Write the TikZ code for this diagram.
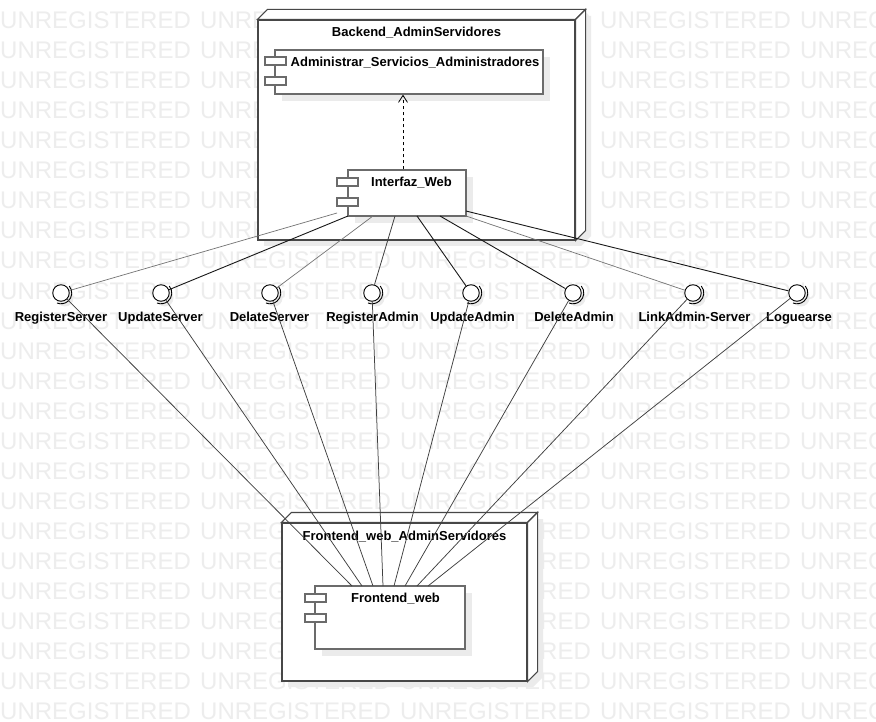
\documentclass[tikz,border=0pt]{standalone}
\usepackage{fontspec}
\setmainfont{Liberation Sans}
\usetikzlibrary{arrows.meta}
\definecolor{wmgray}{HTML}{EDEDED}
\definecolor{shadowgray}{HTML}{EBEBEB}
\begin{document}
\begin{tikzpicture}[x=1pt,y=-1pt,
  wm/.style={anchor=base west,inner sep=0pt,text=wmgray,font=\fontsize{24}{24}\selectfont},
  shadowc/.style={fill=shadowgray},
  nodeedge/.style={draw=black!72,line width=1.15pt,fill=white},
  comp/.style={draw=black!58,line width=1.3pt,fill=white,inner sep=0pt,rectangle},
  icon/.style={draw=black!58,line width=1.2pt,fill=white,inner sep=0pt,minimum width=21pt,minimum height=8pt,rectangle},
  iface/.style={circle,draw=black,line width=0.9pt,fill=white,minimum size=16.5pt,inner sep=0pt},
  sock/.style={draw=black,line width=0.9pt},
  lbl/.style={font=\bfseries\fontsize{13}{15}\selectfont,inner sep=0pt,anchor=base},
  wire/.style={draw=black!90,line width=0.9pt},
  wiremid/.style={draw=black!75,line width=0.8pt},
  wirethin/.style={draw=black!55,line width=0.7pt},
  wirelow/.style={draw=black!75,line width=0.75pt},
  dep/.style={draw=black,line width=0.8pt,dash pattern=on 3pt off 3pt,-{Straight Barb[length=7pt,width=9pt]}}
]
\useasboundingbox (0,0) rectangle (876,722);
\fill[white] (0,0) rectangle (876,722);
% watermark
\begin{scope}
\clip (0,0) rectangle (876,722);
\foreach \k in {0,...,23}{\foreach \j in {0,...,4}{
  \node[wm] (wm-\k-\j) at ({200*\j},{29+30*\k}) {UNREGISTERED};
}}
\end{scope}

% ---------- Backend node ----------
\fill[shadowc,shift={(6,6)}] (258,20)--(268,10)--(585,10)--(585,230)--(575,240)--(258,240)--cycle;
\node[nodeedge,rectangle,inner sep=0pt,minimum width=317pt,minimum height=220pt] (be) at (416.5,130) {};
\draw[nodeedge] (be.north west) -- ++(10,-10) -- ([shift={(10,-10)}]be.north east) -- (be.north east) -- cycle;
\draw[nodeedge] (be.north east) -- ++(10,-10) -- ([shift={(10,-10)}]be.south east) -- (be.south east) -- cycle;
\node[lbl] (be-t) at (416.5,37) {Backend\_AdminServidores};

% Administrar component
\fill[shadowc] (282,57) rectangle (550,101);
\node[comp,minimum width=268pt,minimum height=44pt] (asa) at (409,72) {};
\node[icon] (asa-i1) at (275.5,61) {};
\node[icon] (asa-i2) at (275.5,81) {};
\node[lbl] (asa-t) at (415,67) {Administrar\_Servicios\_Administradores};

% Interfaz_Web component
\fill[shadowc] (355,177) rectangle (473,223);
\node[comp,minimum width=118pt,minimum height=46pt] (iw) at (407,193) {};
\node[icon] (iw-i1) at (347.5,182) {};
\node[icon] (iw-i2) at (347.5,202) {};
\node[lbl] (iw-t) at (411.5,187) {Interfaz\_Web};

\draw[dep] ([xshift=-4pt]iw.north) -- ([xshift=-4pt]iw.north |- asa.south);

% ---------- Frontend node ----------
\fill[shadowc,shift={(6,6)}] (282,523)--(292,513)--(537,513)--(537,671)--(527,681)--(282,681)--cycle;
\node[nodeedge,rectangle,inner sep=0pt,minimum width=245pt,minimum height=158pt] (fe) at (404.5,602) {};
\draw[nodeedge] (fe.north west) -- ++(10,-10) -- ([shift={(10,-10)}]fe.north east) -- (fe.north east) -- cycle;
\draw[nodeedge] (fe.north east) -- ++(10,-10) -- ([shift={(10,-10)}]fe.south east) -- (fe.south east) -- cycle;
\node[lbl] (fe-t) at (404.5,540) {Frontend\_web\_AdminServidores};

\fill[shadowc] (322,593) rectangle (472,656);
\node[comp,minimum width=150pt,minimum height=63pt] (fw) at (390,617.5) {};
\node[icon] (fw-i1) at (315.5,598) {};
\node[icon] (fw-i2) at (315.5,618) {};
\node[lbl] (fw-t) at (395.5,602) {Frontend\_web};

% ---------- interfaces ----------
\foreach \n/\x in {1/61,2/161,3/270,4/372,5/471,6/573,7/693,8/797}{
  \fill[shadowc] (\x+4,298) circle[radius=8.5];
}
% top connection points
\coordinate (t1) at (337,213);
\coordinate (t2) at (348,216);
\coordinate (t3) at (373,216);
\coordinate (t4) at (395,216);
\coordinate (t5) at (417,216);
\coordinate (t6) at (440,216);
\coordinate (t7) at (466,216);
\coordinate (t8) at (466,211);
% bottom connection points
\coordinate (b1) at (352,586);
\coordinate (b2) at (362,586);
\coordinate (b3) at (373,586);
\coordinate (b4) at (383,586);
\coordinate (b5) at (394,586);
\coordinate (b6) at (405,586);
\coordinate (b7) at (417,586);
\coordinate (b8) at (428,586);

\node[iface] (i1) at (61,293) {};
\node[iface] (i2) at (161,293) {};
\node[iface] (i3) at (270,293) {};
\node[iface] (i4) at (372,293) {};
\node[iface] (i5) at (471,293) {};
\node[iface] (i6) at (573,293) {};
\node[iface] (i7) at (693,293) {};
\node[iface] (i8) at (797,293) {};

\foreach \n in {1,...,8}{
  \draw[sock] ([shift={(-40:10.8)}]i\n.center) arc[start angle=-40,end angle=112,radius=10.8];
}

\node[lbl] (l1) at (61,322) {RegisterServer};
\node[lbl] (l2) at (160.5,322) {UpdateServer};
\node[lbl] (l3) at (269.5,322) {DelateServer};
\node[lbl] (l4) at (372.5,322) {RegisterAdmin};
\node[lbl] (l5) at (472.5,322) {UpdateAdmin};
\node[lbl] (l6) at (574,322) {DeleteAdmin};
\node[lbl] (l7) at (694.5,322) {LinkAdmin-Server};
\node[lbl] (l8) at (799,322) {Loguearse};

% connectors from Interfaz_Web
\draw[wirethin] (t1) -- (i1);
\draw[wire] (t2) -- (i2);
\draw[wirethin] (t3) -- (i3);
\draw[wiremid] (t4) -- (i4);
\draw[wire] (t5) -- (i5);
\draw[wire] (t6) -- (i6);
\draw[wirethin] (t7) -- (i7);
\draw[wire] (t8) -- (i8);

% connectors to Frontend_web
\foreach \n in {1,...,8}{
  \draw[wirelow] (i\n) -- (b\n);
}
\end{tikzpicture}
\end{document}
